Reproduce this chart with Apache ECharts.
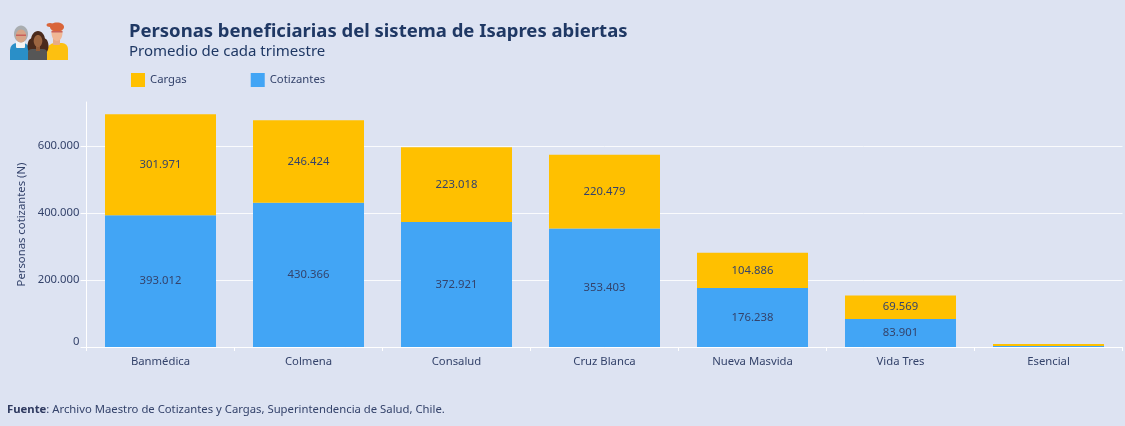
<!DOCTYPE html>
<html>
<head>
    <meta charset="utf-8">
    <title>Personas beneficiarias</title>
    <script src="https://cdn.jsdelivr.net/npm/echarts@6/dist/echarts.min.js"></script>
    <style>
        html, body { margin: 0; padding: 0; background: #dde3f2; }
        #chart { width: 1125px; height: 426px; }
    </style>
</head>
<body>
    <div id="chart"></div>
    <script>
        var isapres = ['Banmédica', 'Colmena', 'Consalud', 'Cruz Blanca', 'Nueva Masvida', 'Vida Tres', 'Esencial'];
        var cotizantes = [393012, 430366, 372921, 353403, 176238, 83901, 3100];
        var cargas = [301971, 246424, 223018, 220479, 104886, 69569, 5900];

        var fontName = '"Noto Sans", "Open Sans", sans-serif';
        var textColor = '#34436b';
        var fontSize = 11.3;

        function puntos(v) {
            return String(v).replace(/\B(?=(\d{3})+$)/g, '.');
        }

        function etiqueta(p) {
            // Esencial no lleva etiqueta, la barra es muy baja
            return p.value < 10000 ? '' : puntos(p.value);
        }

        function serie(name, data, color) {
            return {
                name: name,
                type: 'bar',
                stack: 'total',
                data: data,
                barCategoryGap: '25%',
                itemStyle: { color: color },
                label: {
                    show: true,
                    position: 'inside',
                    formatter: etiqueta,
                    color: textColor,
                    fontFamily: fontName,
                    fontSize: fontSize,
                    padding: [2, 0, 0, 0]
                }
            };
        }

        // icono de las tres personas
        function rect(x, y, w, h, r, fill) {
            return { type: 'rect', shape: { x: x, y: y, width: w, height: h, r: r }, style: { fill: fill } };
        }
        function elipse(cx, cy, rx, ry, fill) {
            return { type: 'ellipse', shape: { cx: cx, cy: cy, rx: rx, ry: ry }, style: { fill: fill } };
        }
        var icono = [
            // hombre, derecha
            rect(47, 43, 21, 17, [8, 6, 0, 0], '#fdc010'),
            rect(53, 38, 7, 7, 1, '#e8ab86'),
            elipse(57, 33, 5.5, 8, '#f0b795'),
            elipse(57, 27, 7, 4.5, '#d9653a'),
            elipse(50, 25, 3.5, 2, '#d9653a'),
            rect(51.5, 31, 11, 1.5, 0, '#c8605a'),
            // abuela, izquierda
            rect(10, 43, 19, 17, [7, 6, 0, 0], '#2a8fc8'),
            rect(16, 41, 9, 7, 1, '#f4f4f4'),
            elipse(21, 34, 7, 8.5, '#a9adb0'),
            elipse(21, 36, 5.3, 6.5, '#d8a487'),
            rect(16, 34.5, 10, 1.5, 0, '#c8605a'),
            // mujer, centro
            elipse(38, 40, 7, 9, '#4a2a1c'),
            elipse(32.5, 46, 5, 8, '#4a2a1c'),
            elipse(43.5, 46, 5, 8, '#4a2a1c'),
            rect(28, 49, 19, 11, [4, 4, 0, 0], '#565656'),
            rect(36, 45, 4, 6, 0, '#8f5a38'),
            elipse(38, 41, 4.3, 6, '#9c6540')
        ];

        var chart = echarts.init(document.getElementById('chart'));

        var option = {
            backgroundColor: '#dde3f2',
            animation: false,
            textStyle: { fontFamily: fontName },
            title: [{
                text: 'Personas beneficiarias del sistema de Isapres abiertas',
                left: 124,
                top: 17,
                textStyle: { color: '#1f3864', fontFamily: fontName, fontWeight: 'bold', fontSize: 18.5 }
            }, {
                text: 'Promedio de cada trimestre',
                left: 124,
                top: 39,
                textStyle: { color: '#1f3864', fontFamily: fontName, fontWeight: 'normal', fontSize: 15 }
            }],
            legend: {
                left: 126,
                top: 68,
                itemWidth: 14,
                itemHeight: 14,
                itemGap: 64,
                icon: 'rect',
                data: ['Cargas', 'Cotizantes'],
                textStyle: { color: textColor, fontFamily: fontName, fontSize: fontSize, padding: [5, 0, 0, 0] }
            },
            grid: { left: 86.5, right: 2.5, top: 102, bottom: 79 },
            xAxis: {
                type: 'category',
                data: isapres,
                axisLine: { lineStyle: { color: '#ffffff', width: 1 } },
                axisTick: { show: true, length: 4, lineStyle: { color: '#ffffff' } },
                axisLabel: { color: textColor, fontFamily: fontName, fontSize: fontSize, margin: 9 }
            },
            yAxis: {
                type: 'value',
                min: 0,
                max: 731300,
                interval: 200000,
                name: 'Personas cotizantes (N)',
                nameLocation: 'middle',
                nameGap: 52,
                nameTextStyle: { color: textColor, fontFamily: fontName, fontSize: fontSize },
                axisLine: { show: true, lineStyle: { color: '#ffffff' } },
                axisTick: { show: true, length: 6, lineStyle: { color: '#ffffff' } },
                splitLine: { show: true, showMaxLine: false, lineStyle: { color: 'rgba(255,255,255,0.85)', width: 1 } },
                axisLabel: {
                    color: textColor,
                    fontFamily: fontName,
                    fontSize: fontSize,
                    margin: 7,
                    padding: [3, 0, 0, 0],
                    showMaxLabel: false,
                    verticalAlignMinLabel: 'bottom',
                    formatter: puntos
                }
            },
            series: [
                serie('Cotizantes', cotizantes, '#42a5f5'),
                serie('Cargas', cargas, '#ffc000')
            ],
            graphic: [
                { type: 'group', children: icono, silent: true },
                {
                    type: 'text',
                    left: 7,
                    top: 404,
                    style: {
                        text: '{b|Fuente}: Archivo Maestro de Cotizantes y Cargas, Superintendencia de Salud, Chile.',
                        fill: textColor,
                        font: fontSize + 'px ' + fontName,
                        rich: {
                            b: { fill: '#2f3a60', font: 'bold ' + fontSize + 'px ' + fontName }
                        }
                    }
                }
            ]
        };
        chart.setOption(option);
    </script>
</body>
</html>
